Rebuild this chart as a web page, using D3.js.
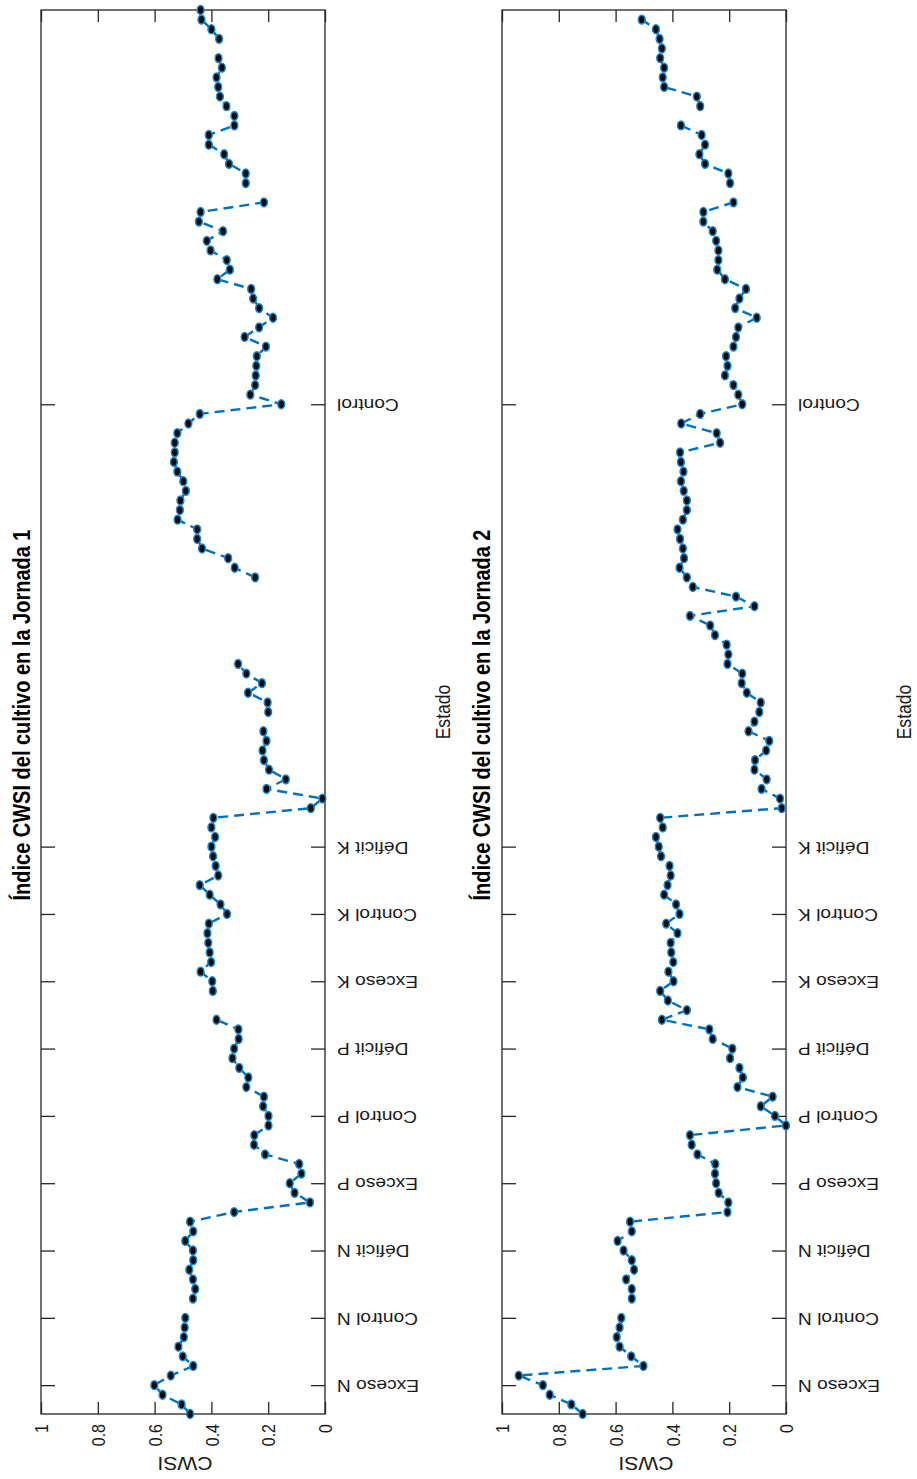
<!DOCTYPE html>
<html>
<head>
<meta charset="utf-8">
<script src="https://cdn.jsdelivr.net/npm/d3@7"></script>
<style>
  body { margin: 0; background: #ffffff; }
  svg { display: block; font-family: "Liberation Sans", Arial, sans-serif; }
</style>
</head>
<body>
<svg id="drawing_region"></svg>
<script>
// categorias del eje Estado y la posicion (n. de medida) de cada etiqueta
const categories = ['Exceso N', 'Control N', 'Déficit N', 'Exceso P', 'Control P',
                    'Déficit P', 'Exceso K', 'Control K', 'Déficit K', 'Control'];
const categoryIndex = [4, 11, 18, 25, 32, 39, 46, 53, 60, 106];
const cwsiTicks = [0, 0.2, 0.4, 0.6, 0.8, 1];
const measureCount = 147;

// CWSI por medida (null = sin dato)
const cwsiJornada1 = [
  0.475, 0.505, 0.572, 0.601, 0.543, 0.464, 0.501, 0.516, 0.497, 0.494,
  0.492, null, 0.465, 0.457, 0.465, 0.478, 0.464, 0.465, 0.492, 0.464,
  0.475, 0.320, 0.053, 0.107, 0.124, 0.083, 0.091, 0.211, 0.250, 0.249,
  0.199, 0.199, 0.218, 0.215, 0.277, 0.270, 0.302, 0.326, 0.320, 0.304,
  0.305, 0.382, null, null, 0.395, 0.397, 0.438, 0.401, 0.406, 0.411,
  0.414, 0.409, 0.345, 0.368, 0.406, 0.441, 0.376, 0.385, 0.394, 0.400,
  0.387, 0.400, 0.393, 0.050, 0.009, 0.206, 0.138, 0.197, 0.215, 0.220,
  0.206, 0.217, null, 0.200, 0.202, 0.271, 0.222, 0.277, 0.306, null,
  null, null, null, null, null, null, null, 0.246, 0.318, 0.341,
  0.433, 0.450, 0.450, 0.519, 0.511, 0.509, 0.490, 0.499, 0.520, 0.532,
  0.529, 0.529, 0.520, 0.481, 0.441, 0.154, 0.263, 0.246, 0.244, 0.242,
  0.240, 0.208, 0.283, 0.232, 0.183, 0.232, 0.253, 0.260, 0.379, 0.335,
  0.346, 0.403, 0.416, 0.359, 0.444, 0.438, 0.215, null, 0.279, 0.279,
  0.338, 0.355, 0.409, 0.409, 0.319, 0.319, 0.347, 0.370, 0.376, 0.382,
  0.363, 0.375, null, 0.373, 0.400, 0.435, 0.438
];

const cwsiJornada2 = [
  0.716, 0.756, 0.832, 0.856, 0.941, 0.502, 0.545, 0.586, 0.596, 0.586,
  0.580, null, 0.543, 0.543, 0.563, 0.535, 0.543, 0.572, 0.593, 0.543,
  0.549, 0.206, 0.203, 0.237, 0.246, 0.250, 0.249, 0.312, 0.332, 0.338,
  0.000, 0.039, 0.089, 0.047, 0.171, 0.152, 0.164, 0.197, 0.189, 0.258,
  0.270, 0.437, 0.349, 0.416, 0.443, 0.396, 0.414, 0.397, 0.404, 0.406,
  0.382, 0.422, 0.375, 0.387, 0.429, 0.417, 0.406, 0.410, 0.440, 0.448,
  0.458, 0.434, 0.443, 0.015, 0.021, 0.086, 0.068, 0.111, 0.109, 0.070,
  0.059, 0.132, 0.111, 0.094, 0.089, 0.138, 0.156, 0.154, 0.206, 0.203,
  0.209, 0.250, 0.267, 0.338, 0.111, 0.176, 0.328, 0.349, 0.375, 0.359,
  0.363, 0.373, 0.382, 0.363, 0.349, 0.349, 0.360, 0.370, 0.361, 0.370,
  0.373, 0.232, 0.244, 0.369, 0.302, 0.154, 0.168, 0.185, 0.215, 0.206,
  0.211, 0.185, 0.176, 0.168, 0.103, 0.179, 0.164, 0.141, 0.215, 0.242,
  0.238, 0.238, 0.246, 0.258, 0.291, 0.291, 0.185, null, 0.197, 0.203,
  0.285, 0.305, 0.285, 0.297, 0.370, null, 0.302, 0.314, 0.429, 0.434,
  0.429, 0.443, 0.437, 0.445, 0.458, 0.508
];

const svg = d3.select('#drawing_region')
    .attr('width', 917)
    .attr('height', 1479);

class CwsiChart {
    constructor (config, values) {
        this.config = config;
        this.data = values.map((v, i) => ({ index: i + 1, cwsi: v }));
        this.init();
    }

    init() {
        let self = this;
        const c = self.config;

        self.chart = svg.append('g');

        // CWSI va en horizontal (1 a la izquierda, 0 a la derecha)
        self.xscale = d3.scaleLinear()
            .domain([0, 1])
            .range([c.right, c.left]);

        // n. de medida en vertical, de abajo hacia arriba
        self.yscale = d3.scaleLinear()
            .domain([1, measureCount])
            .range([c.bottom, c.top]);

        self.stretch = 'scale(1.2,1)';
    }

    render() {
        let self = this;
        const c = self.config;
        const axisColor = '#262626';

        // eje CWSI abajo
        const bottom = self.chart.append('g')
            .attr('transform', `translate(0,${c.bottom})`)
            .call(d3.axisBottom(self.xscale)
                .tickValues(cwsiTicks)
                .tickSizeInner(-12)
                .tickSizeOuter(0)
                .tickFormat(d3.format('~g')));
        bottom.selectAll('.tick text')
            .attr('x', 0).attr('y', 0)
            .attr('dy', '0.35em')
            .attr('text-anchor', 'end')
            .attr('transform', `translate(0,10) ${self.stretch} rotate(-90)`);

        // marcas arriba sin texto
        const top = self.chart.append('g')
            .attr('transform', `translate(0,${c.top})`)
            .call(d3.axisTop(self.xscale)
                .tickValues(cwsiTicks)
                .tickSizeInner(-12)
                .tickSizeOuter(0)
                .tickFormat(''));

        // eje Estado a la derecha
        const right = self.chart.append('g')
            .attr('transform', `translate(${c.right},0)`)
            .call(d3.axisRight(self.yscale)
                .tickValues(categoryIndex)
                .tickSizeInner(-14)
                .tickSizeOuter(0)
                .tickFormat((d, i) => categories[i]));
        right.selectAll('.tick text')
            .attr('x', 0).attr('y', 0)
            .attr('dy', '0.35em')
            .attr('text-anchor', 'end')
            .attr('transform', `translate(12,0) ${self.stretch} rotate(180)`);

        const left = self.chart.append('g')
            .attr('transform', `translate(${c.left},0)`)
            .call(d3.axisLeft(self.yscale)
                .tickValues(categoryIndex)
                .tickSizeInner(-14)
                .tickSizeOuter(0)
                .tickFormat(''));

        [bottom, top, right, left].forEach(g => {
            g.attr('font-family', null).attr('font-size', 16);
            g.select('.domain').remove();
            g.selectAll('.tick line').attr('stroke', axisColor).attr('stroke-width', 1.3);
            g.selectAll('.tick text').attr('fill', '#1a1a1a');
        });

        self.chart.append('rect')
            .attr('x', c.left)
            .attr('y', c.top)
            .attr('width', c.right - c.left)
            .attr('height', c.bottom - c.top)
            .attr('fill', 'none')
            .attr('stroke', axisColor)
            .attr('stroke-width', 1.3);

        // serie
        const line = d3.line()
            .defined(d => d.cwsi !== null)
            .x(d => self.xscale(d.cwsi))
            .y(d => self.yscale(d.index));

        self.chart.append('path')
            .datum(self.data)
            .attr('d', line)
            .attr('fill', 'none')
            .attr('stroke', '#0072BD')
            .attr('stroke-width', 2.4)
            .attr('stroke-dasharray', '10,6');

        self.chart.selectAll('.marker')
            .data(self.data.filter(d => d.cwsi !== null))
            .enter()
            .append('ellipse')
            .attr('class', 'marker')
            .attr('cx', d => self.xscale(d.cwsi))
            .attr('cy', d => self.yscale(d.index))
            .attr('rx', 3.4)
            .attr('ry', 4.4)
            .attr('fill', '#0d0d0d')
            .attr('stroke', '#1f86d1')
            .attr('stroke-width', 1.5);

        // textos
        self.chart.append('text')
            .attr('transform', `translate(${c.titleX},${(c.top + c.bottom) / 2 + 3}) ${self.stretch} rotate(-90)`)
            .attr('text-anchor', 'middle')
            .style('font-size', '20px')
            .style('font-weight', 'bold')
            .text(c.title);

        self.chart.append('text')
            .attr('transform', `translate(${c.right + 125},${(c.top + c.bottom) / 2}) ${self.stretch} rotate(-90)`)
            .attr('text-anchor', 'middle')
            .attr('fill', '#1a1a1a')
            .style('font-size', '17.6px')
            .text('Estado');

        self.chart.append('text')
            .attr('transform', `translate(${(c.left + c.right) / 2 + 2},${c.bottom + 43}) ${self.stretch} rotate(180)`)
            .attr('text-anchor', 'middle')
            .attr('fill', '#1a1a1a')
            .style('font-size', '17.6px')
            .text('CWSI');
    }
}

const chart1 = new CwsiChart({
    left: 41, right: 325, top: 10, bottom: 1414,
    titleX: 30,
    title: 'Índice CWSI del cultivo en la Jornada 1'
}, cwsiJornada1);
chart1.render();

const chart2 = new CwsiChart({
    left: 502, right: 786, top: 10, bottom: 1414,
    titleX: 490,
    title: 'Índice CWSI del cultivo en la Jornada 2'
}, cwsiJornada2);
chart2.render();
</script>
</body>
</html>
